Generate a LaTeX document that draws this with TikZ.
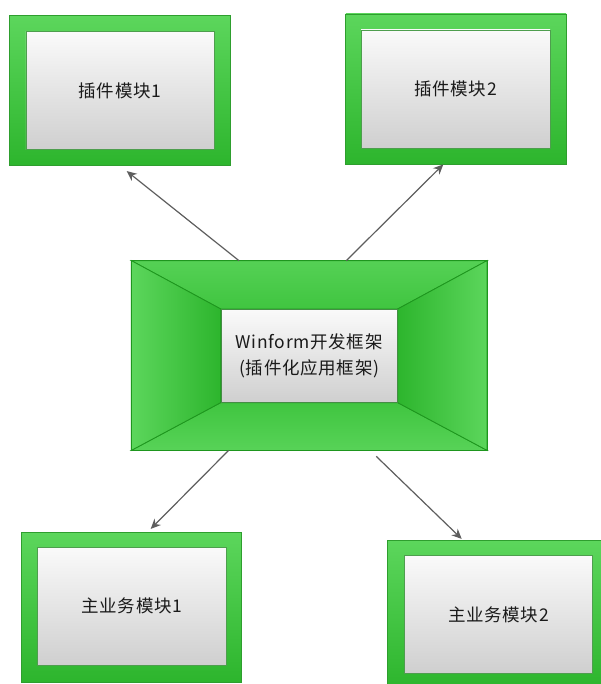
\documentclass[tikz,border=0pt]{standalone}
\usepackage{fontspec}
\newfontfamily\cjk{Noto Sans CJK SC}[LetterSpace=4]
\usetikzlibrary{calc,arrows.meta}
\definecolor{gLight}{HTML}{5CD65C}
\definecolor{gDark}{HTML}{2DB52D}
\definecolor{gLine}{HTML}{2E9E2E}
\definecolor{gEdge}{HTML}{1E961E}
\definecolor{gMid}{HTML}{40C540}
\definecolor{iTop}{HTML}{FAFAFA}
\definecolor{iBot}{HTML}{CFCFCF}
\definecolor{iLine}{HTML}{4E9E4E}
\definecolor{arrowGray}{HTML}{5E5E5E}
\definecolor{txt}{HTML}{1A1A1A}
\begin{document}
\begin{tikzpicture}[x=1pt,y=-1pt,
  outerbox/.style={draw=gLine, line width=0.8pt, top color=gLight, bottom color=gDark,
    minimum width=#1, inner sep=0pt, anchor=center},
  innerbox/.style={draw=iLine, line width=0.6pt, top color=iTop, bottom color=iBot,
    inner sep=0pt, anchor=center, font=\cjk\fontsize{17.5}{26}\selectfont, text=txt, align=center},
  face/.style={draw=gEdge, line width=0.8pt, line join=miter},
  arr/.style={draw=arrowGray, line width=1.2pt, -{Stealth[length=10pt,width=9pt]}}
]
\useasboundingbox (0,0) rectangle (601,684);
\clip (0,0) rectangle (601,684);

% top-left module
\node[outerbox=220.4pt, minimum height=150pt] (b1) at (120,90.7) {};
\node[innerbox, minimum width=188.3pt, minimum height=118pt] (b1i) at (b1.center) {插件模块1};

% top-right module
\node[outerbox=220.3pt, minimum height=150pt] (b2) at (455.9,89) {};
\node[innerbox, minimum width=189pt, minimum height=118pt] (b2i) at (455.5,89) {插件模块2};

% bottom-left module
\node[outerbox=220.4pt, minimum height=150pt] (b3) at (131.5,607) {};
\node[innerbox, minimum width=188.3pt, minimum height=118pt] (b3i) at (131.9,606.3) {主业务模块1};

% bottom-right module
\node[outerbox=222pt, minimum height=148pt] (b4) at (498,614) {};
\node[innerbox, minimum width=188.7pt, minimum height=117.6pt] (b4i) at (498.4,614.5) {主业务模块2};

% centre frame
\node[draw=gEdge, line width=0.8pt, fill=gMid, minimum width=355pt, minimum height=189pt,
  inner sep=0pt] (c) at (309.2,355.5) {};
\node[innerbox, minimum width=176.3pt, minimum height=93pt, draw=none] (ci) at (309.2,355.8) {};
% faces
\path[face, top color=gLight!85!gDark, bottom color=gMid]
  (c.north west) -- (c.north east) -- (ci.north east) -- (ci.north west) -- cycle;
\path[face, top color=gMid, bottom color=gLight!90!gDark]
  (c.south west) -- (c.south east) -- (ci.south east) -- (ci.south west) -- cycle;
\path[face, left color=gLight, right color=gDark]
  (c.north west) -- (ci.north west) -- (ci.south west) -- (c.south west) -- cycle;
\path[face, left color=gDark, right color=gLight]
  (c.north east) -- (ci.north east) -- (ci.south east) -- (c.south east) -- cycle;
\node[innerbox, minimum width=176.3pt, minimum height=93pt, draw=gEdge!60!gray] (cit) at (ci.center)
  {Winform开发框架\\(插件化应用框架)};
\draw[gEdge, line width=0.8pt] (c.north west) rectangle (c.south east);

% connectors
\draw[arr] ([xshift=107.6pt]c.north west) -- ([shift={(6.7,5)}]b1.south);
\draw[arr] ([xshift=215pt]c.north west) -- ([shift={(-12.6,0)}]b2.south);
\draw[arr] ([xshift=97.3pt]c.south west) -- ([shift={(19.2,-2.7)}]b3.north);
\draw[arr] ([shift={(245,6)}]c.south west) -- ([shift={(-36.3,-0.7)}]b4.north);
\end{tikzpicture}
\end{document}
